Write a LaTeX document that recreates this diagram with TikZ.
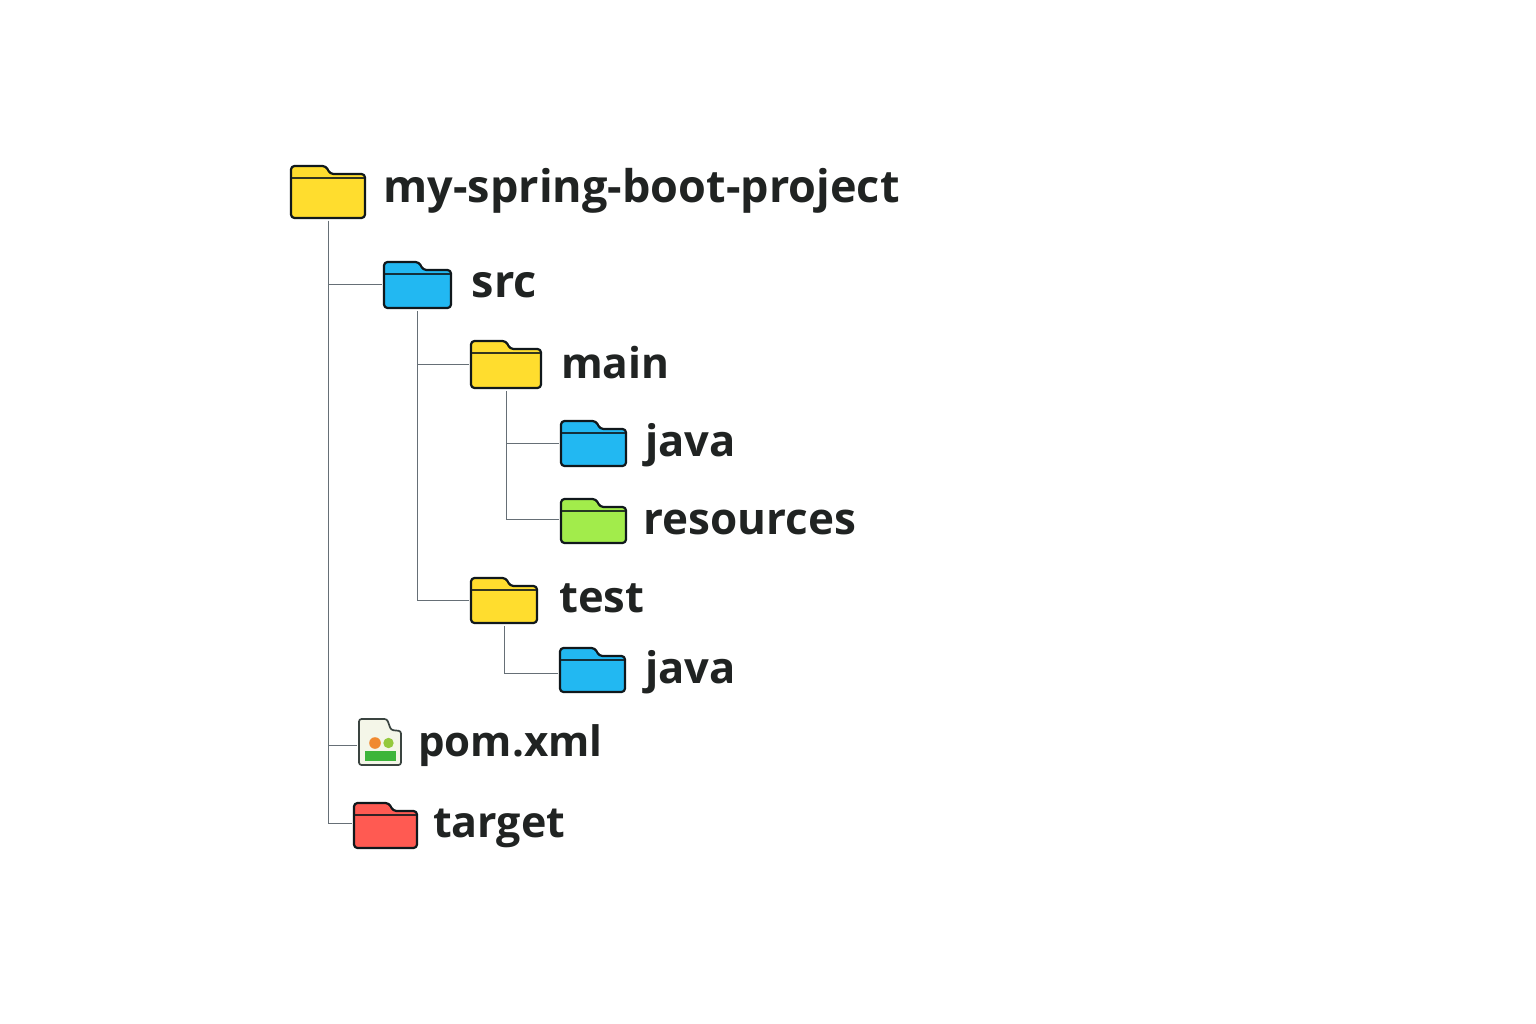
\documentclass[tikz,border=0pt]{standalone}
\usepackage{fontspec}
\setmainfont{Open Sans}
\definecolor{fy}{HTML}{FFDD2E}
\definecolor{fb}{HTML}{22B8F2}
\definecolor{fg}{HTML}{A2EC4B}
\definecolor{fr}{HTML}{FF5A52}
\definecolor{ink}{HTML}{10181C}
\definecolor{txt}{HTML}{202322}
\definecolor{conn}{HTML}{666F76}
\definecolor{pombg}{HTML}{F4F6E8}
\definecolor{pomline}{HTML}{3A4440}
\definecolor{pomor}{HTML}{F08A30}
\definecolor{pomgr}{HTML}{94C93D}
\definecolor{pombar}{HTML}{3DB53A}
\tikzset{
 x=1pt,y=-1pt,
 connector/.style={draw=conn,line width=0.9pt,shorten <=3pt,shorten >=2pt},
 folderbody/.style={draw=ink,line width=2.2pt,line join=round},
 anchorbox/.style={inner sep=0pt,outer sep=0pt,minimum width=0pt,minimum height=0pt,rectangle},
 lbl/.style={anchor=base west,inner sep=0pt,font=\bfseries\fontsize{#1}{#1}\selectfont,text=txt},
}
% name, x1, y1, x2, y2, colour
\newcommand{\myfolder}[6]{%
  \draw[folderbody,fill=#6,rounded corners=3.5pt] (#2,#3) -- (#2+35,#3) -- (#2+39,#3+8) -- (#4,#3+8) -- (#4,#5) -- (#2,#5) -- cycle;
  \draw[ink!85!#6,line width=1.2pt] (#2+1,#3+12) -- (#4-1,#3+12);
  \node[anchorbox,minimum width=#4pt-#2pt,minimum height=#5pt-#3pt] (#1) at ({(#2+#4)/2},{(#3+#5)/2}) {};
}
\begin{document}
\begin{tikzpicture}
\useasboundingbox (0,0) rectangle (1536,1024);
\fill[white] (0,0) rectangle (1536,1024);
% folders
\myfolder{root}{291}{166}{365}{218}{fy}
\myfolder{src}{384}{262}{451}{308}{fb}
\myfolder{main}{471}{341}{541}{388}{fy}
\myfolder{javaa}{561}{421}{626}{466}{fb}
\myfolder{res}{561}{499}{626}{543}{fg}
\myfolder{test}{471}{578}{537}{623}{fy}
\myfolder{javab}{560}{648}{625}{692}{fb}
\myfolder{tgt}{354}{803}{417}{848}{fr}
% pom file
\draw[draw=pomline,fill=pombg,line width=1.7pt,rounded corners=2.5pt] (359,719) -- (387,719) -- (391,730) -- (401,731) -- (401,765) -- (359,765) -- cycle;
\fill[pomor] (375,743) circle (5.8);
\fill[pomgr] (388.5,743) circle (5.2);
\fill[pombar] (365,751) rectangle (396,761);
\node[anchorbox,minimum width=42pt,minimum height=46pt] (pom) at (380,742) {};
% connectors
\draw[connector] (root.south) |- ([yshift=0.5pt]src.west);
\draw[connector] (root.south) |- ([yshift=-3pt]pom.west);
\draw[connector] (root.south) |- ([yshift=2pt]tgt.west);
\draw[connector] (src.south) |- (main.west);
\draw[connector] (src.south) |- (test.west);
\draw[connector] (main.south) |- (javaa.west);
\draw[connector] (main.south) |- ([yshift=1.5pt]res.west);
\draw[connector] (test.south) |- ([yshift=-3.5pt]javab.west);
% labels
\node[lbl=45] (t1) at (383.5,202.5) {my-spring-boot-project};
\node[lbl=45] (t2) at (471.5,298) {src};
\node[lbl=42.5] (t3) at (561,378) {main};
\node[lbl=43.5] (t4) at (645,456) {java};
\node[lbl=44] (t5) at (643,534) {resources};
\node[lbl=43.5] (t6) at (559,612) {test};
\node[lbl=43.5] (t7) at (645,683) {java};
\node[lbl=42] (t8) at (418,756) {pom.xml};
\node[lbl=43] (t9) at (433,837) {target};
\end{tikzpicture}
\end{document}
